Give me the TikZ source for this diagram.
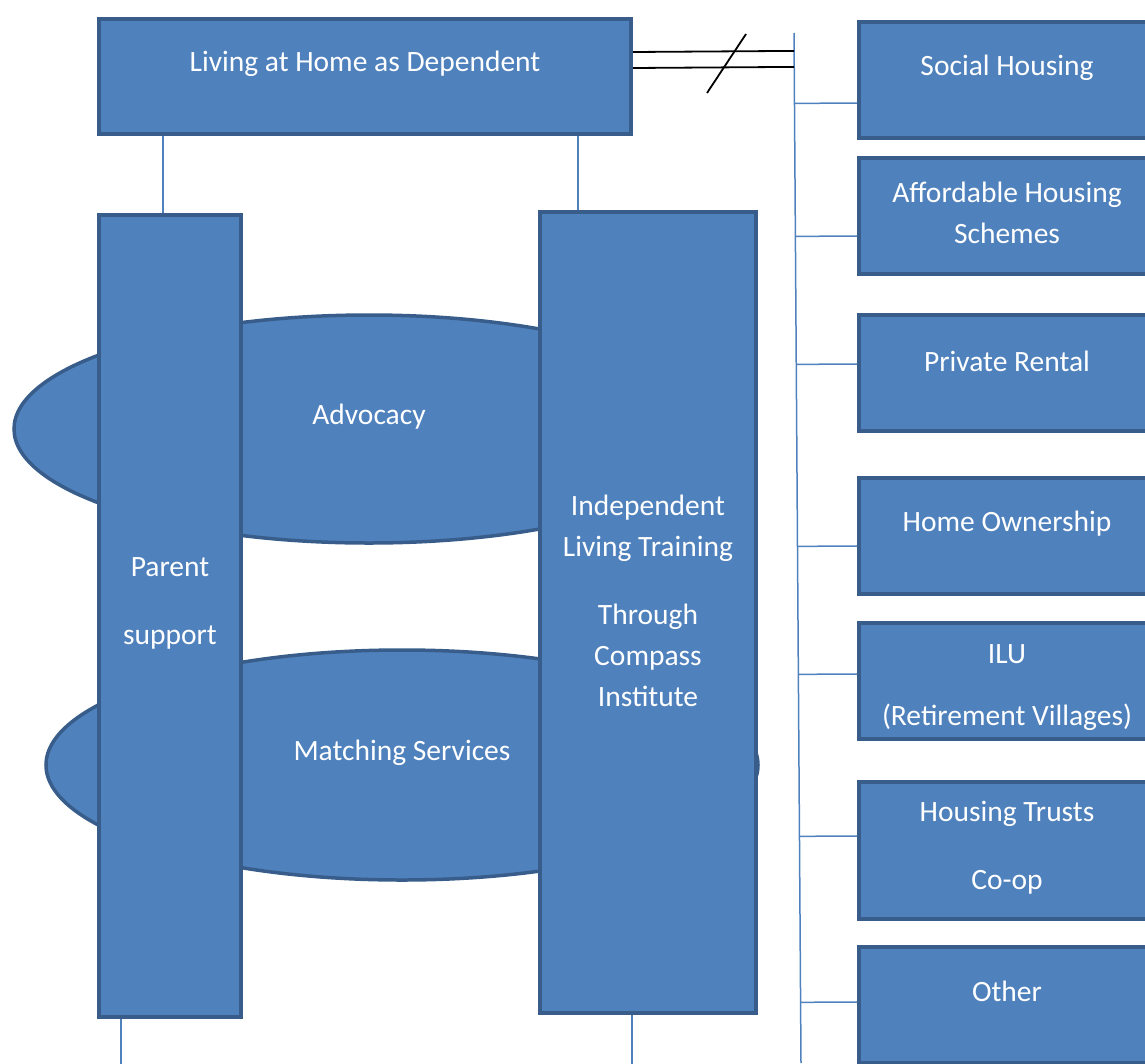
\documentclass[tikz,border=0pt]{standalone}
\usepackage{fontspec}
\setmainfont{Carlito}
\usetikzlibrary{shapes.geometric,calc}
\definecolor{boxfill}{HTML}{4F81BD}
\definecolor{boxline}{HTML}{385D8A}
\begin{document}
\begin{tikzpicture}[x=1pt,y=-1pt]
	\tikzstyle{box} = [draw=boxline, fill=boxfill, line width=4pt, rectangle, inner sep=0pt]
	\tikzstyle{oval} = [draw=boxline, fill=boxfill, line width=3.5pt, ellipse, inner sep=0pt]
	\tikzstyle{txt} = [text=white, font=\fontsize{29.5}{41}\selectfont, align=center, inner sep=0pt, yshift=-2.5pt]
	\tikzstyle{link} = [draw=boxfill, line width=1.5pt]

	\useasboundingbox (0,0) rectangle (1145,1063);
	\clip (0,0) rectangle (1145,1063);

	% ovals behind the two columns
	\node[oval, minimum width=710, minimum height=228] (adv) at (369,429) {};
	\node[oval, minimum width=712, minimum height=230] (match) at (402,765) {};

	\node[box, minimum width=532, minimum height=115] (top) at (365,76.5) {};
	\node[box, minimum width=142, minimum height=802] (par) at (170,616) {};
	\node[box, minimum width=216, minimum height=801] (ilt) at (648,612.5) {};

	\node[txt] (topt) at (365,61) {Living at Home as Dependent};
	\node[txt] (advt) at (369,414) {Advocacy};
	\node[txt] (matcht) at (402,750) {Matching Services};
	\node[txt] (part) at (170,601) {Parent\\[27pt]support};
	\node[txt] (iltt) at (648,598) {Independent\\Living Training\\[27pt]Through\\Compass\\Institute};

	% housing options
	\node[box, minimum width=296, minimum height=116] (soc) at (1007,80) {};
	\node[box, minimum width=296, minimum height=116] (aff) at (1007,216) {};
	\node[box, minimum width=296, minimum height=116] (priv) at (1007,373) {};
	\node[box, minimum width=296, minimum height=116] (home) at (1007,535.5) {};
	\node[box, minimum width=296, minimum height=116] (ilu) at (1007,681) {};
	\node[box, minimum width=296, minimum height=137] (trust) at (1007,850.5) {};
	\node[box, minimum width=296, minimum height=116] (other) at (1007,1005) {};

	\node[txt] (soct) at (1007,65) {Social Housing};
	\node[txt] (afft) at (1007,210) {Affordable Housing\\Schemes};
	\node[txt] (privt) at (1007,359) {Private Rental};
	\node[txt] (homet) at (1007,521) {Home Ownership};
	\node[txt] (ilut) at (1007,685) {ILU\\[21pt](Retirement Villages)};
	\node[txt] (trustt) at (1007,845) {Housing Trusts\\[27pt]Co-op};
	\node[txt] (othert) at (1007,989) {Other};

	% trunk and branches
	\coordinate (tt) at (794,33);
	\coordinate (tb) at (801,1063);
	\draw[link] (tt) -- (tb);
	\foreach \b/\off in {soc/23, aff/20, priv/-9, home/10.5, ilu/-7, trust/-14.5, other/-3} {
		\coordinate (p) at ($(\b.west)+(0,\off)$);
		\draw[link] ($(tt)!(p)!(tb)$) -- (p);
	}

	% double line with break mark
	\coordinate (d1) at ($(top.east)+(0,-24.5)$);
	\coordinate (d2) at ($(top.east)+(0,-8.5)$);
	\draw[line width=1.8pt] (d1) -- ($(tt)!(d1)!(tb)$);
	\draw[line width=1.8pt] (d2) -- ($(tt)!(d2)!(tb)$);
	\draw[line width=1.8pt] (707,93) -- (746,34);

	% columns
	\draw[link] ([xshift=-7pt]par.north) -- ([xshift=-7pt]par.north |- top.south);
	\draw[link] ([xshift=-70pt]ilt.north) -- ([xshift=-70pt]ilt.north |- top.south);
	\draw[link] ([xshift=-49pt]par.south) -- ++(0,60);
	\draw[link] ([xshift=-16pt]ilt.south) -- ++(0,60);
\end{tikzpicture}
\end{document}
